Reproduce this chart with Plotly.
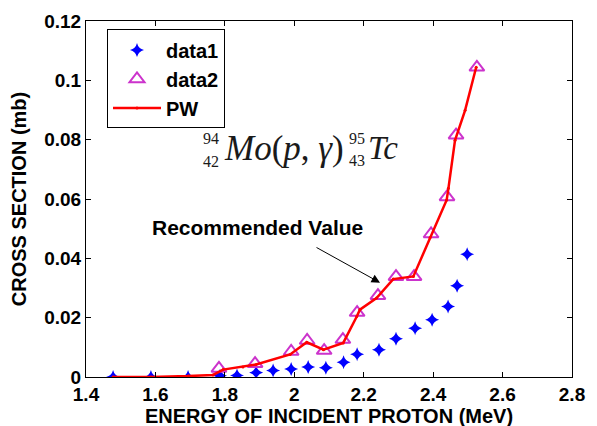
import plotly.graph_objects as go

# data1 (blue stars)
d1_x = [1.478, 1.587, 1.694, 1.786, 1.835, 1.890, 1.939, 1.991, 2.040, 2.091,
        2.142, 2.181, 2.244, 2.293, 2.348, 2.397, 2.443, 2.469, 2.498]
d1_y = [0.0, 0.0, 0.0, 0.0004, 0.0005, 0.0015, 0.0022, 0.0027, 0.0034, 0.0031,
        0.0050, 0.0077, 0.0092, 0.0129, 0.0164, 0.0193, 0.0238, 0.0308, 0.0414]

# data2 (magenta open triangles)
d2_x = [1.783, 1.887, 1.991, 2.037, 2.086, 2.140, 2.181, 2.241, 2.293, 2.345,
        2.394, 2.440, 2.466, 2.526]
d2_y = [0.0029, 0.0045, 0.0086, 0.0123, 0.0089, 0.0126, 0.0217, 0.0274, 0.0338,
        0.0338, 0.0482, 0.0607, 0.0815, 0.1044]

# PW (red line)
pw_x = [1.478, 1.587, 1.694, 1.766, 1.795, 1.852, 1.890, 1.988, 2.036, 2.084,
        2.141, 2.180, 2.189, 2.237, 2.285, 2.343, 2.391, 2.439, 2.444, 2.463,
        2.492, 2.524]
pw_y = [0.0, 0.0, 0.0003, 0.0007, 0.0025, 0.0034, 0.0042, 0.0076, 0.0117, 0.0092,
        0.0115, 0.0204, 0.0227, 0.0266, 0.0330, 0.0339, 0.0469, 0.0597, 0.0636,
        0.0798, 0.0899, 0.1044]

x_ticks = [1.4, 1.6, 1.8, 2.0, 2.2, 2.4, 2.6, 2.8]
x_tick_labels = ["1.4", "1.6", "1.8", "2", "2.2", "2.4", "2.6", "2.8"]
y_ticks = [0, 0.02, 0.04, 0.06, 0.08, 0.1, 0.12]
y_tick_labels = ["0", "0.02", "0.04", "0.06", "0.08", "0.1", "0.12"]

SANS = "Liberation Sans, Arial, sans-serif"
SERIF = "Liberation Serif, Times New Roman, serif"

fig = go.Figure()
fig.add_trace(go.Scatter(
    x=d1_x, y=d1_y, name="data1", mode="markers",
    marker=dict(symbol="star-diamond", size=10, color="#0000ff",
                line=dict(width=0))))
fig.add_trace(go.Scatter(
    x=d2_x, y=d2_y, name="data2", mode="markers",
    marker=dict(symbol="triangle-up-open", size=13, color="#cc33cc",
                line=dict(width=2, color="#cc33cc"))))
fig.add_trace(go.Scatter(
    x=pw_x, y=pw_y, name="PW", mode="lines+markers",
    line=dict(color="#ff0000", width=2.5),
    marker=dict(symbol="circle", size=3, color="#ff0000")))

# page body adds an 8px offset; compensate in margins
OFF = 8
W, H = 597, 426
PL, PT, PW_, PH_ = 86, 20.5, 486, 357   # plot area in the photographed page
L = PL - OFF
T = PT - OFF
R = W - L - PW_
B = H - T - PH_


def px(xp):
    return (xp - PL) / PW_


def py(yp):
    return (PT + PH_ - yp) / PH_


ann = []
eq_col = "#1a1a1a"


def txt(t, xp, yp, size, xanchor="center", family=SERIF, weight="normal",
        color=eq_col):
    return dict(text=t, x=px(xp), y=py(yp), xref="paper", yref="paper",
                xanchor=xanchor, yanchor="middle", showarrow=False,
                font=dict(family=family, size=size, color=color, weight=weight))


ann.append(txt("94", 211, 138, 16))
ann.append(txt("42", 211, 161, 16))
ann.append(txt("<i>Mo</i>(<i>p</i>, <i>γ</i>)", 222, 148, 35, xanchor="left"))
ann.append(txt("95", 357, 138, 16))
ann.append(txt("43", 357, 160, 16))
ann.append(txt("<i>Tc</i>", 366, 148, 33, xanchor="left"))
ann.append(txt("Recommended Value", 150, 228, 21, xanchor="left",
               family=SANS, weight="bold", color="#000000"))
ann.append(dict(text="", x=2.247, y=0.0318, xref="x", yref="y",
                ax=-65, ay=-36, showarrow=True, arrowhead=2, arrowsize=1.7,
                arrowwidth=1, arrowcolor="#000000"))

axis_common = dict(
    showline=True, linecolor="#000000", linewidth=1, mirror="ticks",
    ticks="inside", ticklen=5, tickcolor="#000000", showgrid=False,
    zeroline=False,
    tickfont=dict(family=SANS, size=19, color="#000000", weight="bold"),
)

fig.update_layout(
    width=W, height=H,
    margin=dict(l=L, r=R, t=T, b=B, autoexpand=False),
    paper_bgcolor="#ffffff", plot_bgcolor="#ffffff",
    showlegend=True,
    legend=dict(x=px(107), y=py(29), xanchor="left", yanchor="top",
                bordercolor="#000000", borderwidth=1, bgcolor="#ffffff",
                font=dict(family=SANS, size=20, color="#000000", weight="bold"),
                itemwidth=48),
    xaxis=dict(range=[1.4, 2.8], tickvals=x_ticks, ticktext=x_tick_labels,
               ticklabelstandoff=0,
               title=dict(text="ENERGY OF INCIDENT PROTON (MeV)", standoff=1,
                          font=dict(family=SANS, size=20, color="#000000",
                                    weight="bold")),
               automargin=False, **axis_common),
    yaxis=dict(range=[0, 0.12], tickvals=y_ticks, ticktext=y_tick_labels,
               title=dict(text="CROSS SECTION (mb)", standoff=16,
                          font=dict(family=SANS, size=20, color="#000000",
                                    weight="bold")),
               automargin=False, **axis_common),
    annotations=ann,
)

fig.write_html("out.html")
